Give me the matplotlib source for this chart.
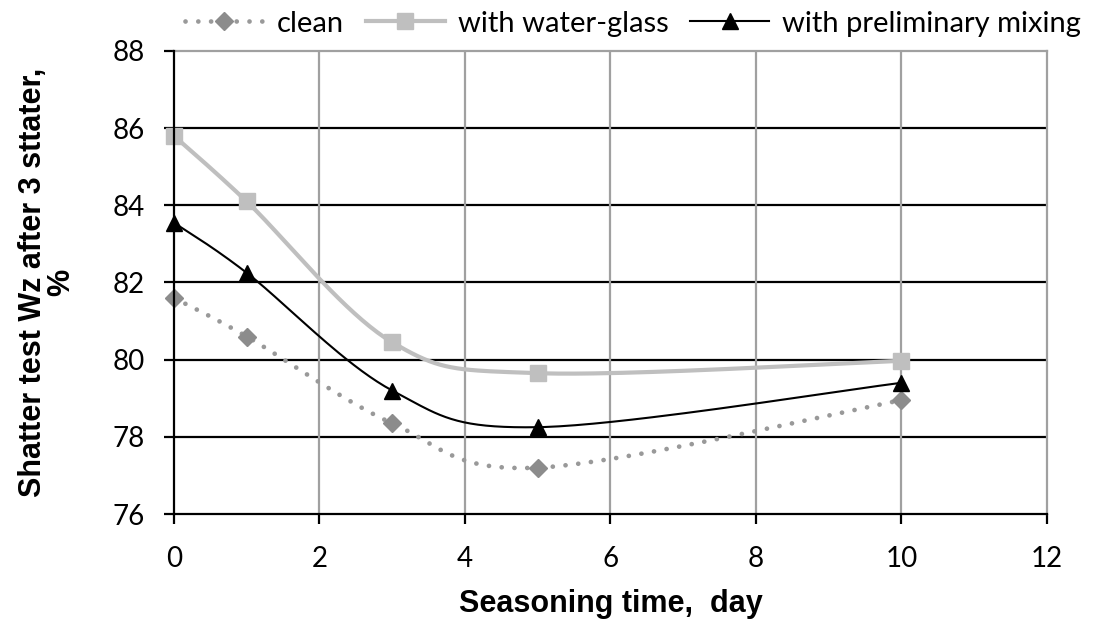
import numpy as np
import matplotlib
matplotlib.use("Agg")
import matplotlib.pyplot as plt

# data
days = [0, 1, 3, 5, 10]
clean = [81.6, 80.6, 78.35, 77.2, 78.95]
water_glass = [85.8, 84.1, 80.45, 79.65, 79.97]
prelim_mixing = [83.55, 82.25, 79.2, 78.25, 79.4]
x_ticks = [0, 2, 4, 6, 8, 10, 12]
y_ticks = [76, 78, 80, 82, 84, 86, 88]


def smooth(xs, ys, n=40):
    # Excel-like smoothed line: Catmull-Rom segments as cubic Bezier
    p = np.column_stack([xs, ys]).astype(float)
    out = []
    for i in range(len(p) - 1):
        p0 = p[i - 1] if i > 0 else p[i]
        p1, p2 = p[i], p[i + 1]
        p3 = p[i + 2] if i + 2 < len(p) else p[i + 1]
        c1 = p1 + (p2 - p0) / 6
        c2 = p2 - (p3 - p1) / 6
        t = np.linspace(0, 1, n, endpoint=False)[:, None]
        out.append((1 - t) ** 3 * p1 + 3 * (1 - t) ** 2 * t * c1 + 3 * (1 - t) * t ** 2 * c2 + t ** 3 * p2)
    out.append(p[-1:])
    pts = np.vstack(out)
    marks = [i * n for i in range(len(p))]
    return pts[:, 0], pts[:, 1], marks


plt.rcParams['font.family'] = ['Lato', 'DejaVu Sans']

fig = plt.figure(figsize=(10.97, 6.21), dpi=100)
ax = fig.add_axes([0.1586, 0.1723, 0.7958, 0.7456])

sx, sy, mk = smooth(days, clean)
ax.plot(sx, sy, color='#999999', lw=3.4, linestyle=(0, (0.01, 2.7)),
        dash_capstyle='round', marker='D', markersize=9, markevery=mk,
        markerfacecolor='#8c8c8c', markeredgecolor='#8c8c8c',
        clip_on=False, zorder=4, label='clean')

sx, sy, mk = smooth(days, water_glass)
ax.plot(sx, sy, color='#bfbfbf', lw=3.0, marker='s', markersize=11.5,
        markevery=mk, markerfacecolor='#bfbfbf', markeredgecolor='#bfbfbf',
        clip_on=False, zorder=4, label='with water-glass')

sx, sy, mk = smooth(days, prelim_mixing)
ax.plot(sx, sy, color='black', lw=1.5, marker='^', markersize=12,
        markevery=mk, markerfacecolor='black', markeredgecolor='black',
        clip_on=False, zorder=5, label='with preliminary mixing')

ax.set_xlim(0, 12)
ax.set_ylim(76, 88)
ax.set_xticks(x_ticks)
ax.set_yticks(y_ticks)

for y in y_ticks[1:-1]:
    ax.axhline(y, color='black', lw=1.6, zorder=1)
for x in x_ticks[1:-1]:
    ax.axvline(x, color='#a0a0a0', lw=1.6, zorder=1)

for s in ['top', 'right']:
    ax.spines[s].set_color('#a0a0a0')
    ax.spines[s].set_linewidth(1.6)
for s in ['left', 'bottom']:
    ax.spines[s].set_color('black')
    ax.spines[s].set_linewidth(1.6)
    ax.spines[s].set_zorder(6)

ax.tick_params(axis='both', direction='out', length=7, width=1.6,
               color='black', labelsize=20)
ax.tick_params(axis='y', pad=14)
ax.tick_params(axis='x', pad=16)

ax.set_xlabel('Seasoning time,  day', fontsize=22, fontweight='bold',
              family='Liberation Sans', labelpad=12)
ax.set_ylabel('Shatter test Wz after 3 sttater,\n%', fontsize=22,
              fontweight='bold', family='Liberation Sans', labelpad=26,
              linespacing=0.95)

fig.legend(loc='center', bbox_to_anchor=(0.577, 0.962), ncol=3,
           frameon=False, fontsize=21, handlelength=2.7, handletextpad=0.45,
           columnspacing=0.75, borderaxespad=0, borderpad=0)

fig.savefig('out.png', dpi=100)
